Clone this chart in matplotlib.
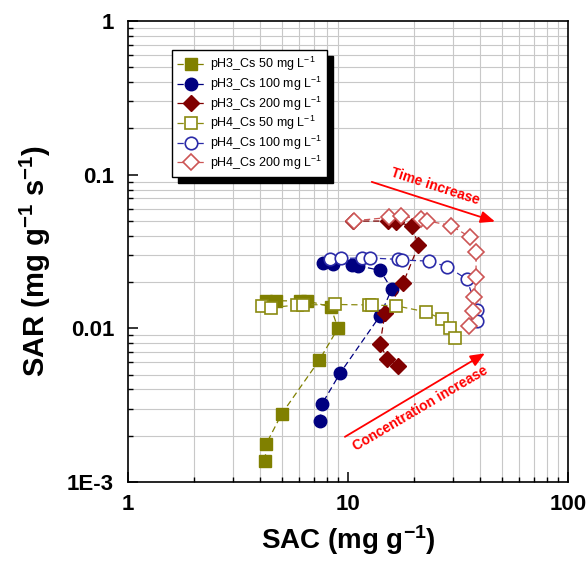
import matplotlib
matplotlib.use('Agg')
import matplotlib.pyplot as plt
from matplotlib.patches import Rectangle
from matplotlib.transforms import IdentityTransform
from matplotlib.ticker import NullFormatter, LogLocator

plt.rcParams['font.family'] = ['Liberation Sans', 'DejaVu Sans']
plt.rcParams['mathtext.fontset'] = 'custom'
plt.rcParams['mathtext.rm'] = 'Liberation Sans'
plt.rcParams['mathtext.it'] = 'Liberation Sans:italic'
plt.rcParams['mathtext.bf'] = 'Liberation Sans:bold'

# ---------------- data ----------------
ph3_50_x = [4.2, 4.25, 5.0, 7.4, 9.0, 8.35, 6.5, 6.05, 4.7, 4.22]
ph3_50_y = [0.00138, 0.00177, 0.00278, 0.0062, 0.0100, 0.0138, 0.0151, 0.0151, 0.0151, 0.0151]

ph3_100_x = [7.46, 7.6, 9.2, 14.0, 15.8, 14.0, 11.1, 10.4, 8.55, 7.7]
ph3_100_y = [0.0025, 0.0032, 0.0051, 0.0121, 0.0180, 0.0238, 0.0256, 0.0260, 0.0262, 0.0266]

ph3_200_x = [16.9, 15.1, 14.0, 14.7, 17.8, 20.9, 19.5, 16.5, 15.2, 10.5]
ph3_200_y = [0.0057, 0.0063, 0.0079, 0.0125, 0.0197, 0.0346, 0.0464, 0.0492, 0.0499, 0.0499]

ph4_50_x = [4.05, 4.45, 5.85, 6.25, 8.7, 12.4, 12.85, 16.6, 22.6, 26.7, 29.2, 30.5]
ph4_50_y = [0.0140, 0.0136, 0.0142, 0.0142, 0.0143, 0.0142, 0.0142, 0.0140, 0.0128, 0.0115, 0.0101, 0.0087]

ph4_100_x = [8.28, 9.29, 11.6, 12.6, 16.9, 17.6, 23.3, 28.2, 34.7, 38.6, 38.6]
ph4_100_y = [0.0281, 0.0285, 0.0287, 0.0287, 0.0281, 0.0278, 0.0274, 0.0252, 0.0209, 0.0132, 0.0111]

ph4_200_x = [10.65, 15.4, 17.4, 21.5, 22.9, 29.4, 35.9, 38.2, 38.2, 37.4, 37.0, 35.5]
ph4_200_y = [0.0501, 0.0527, 0.0537, 0.0514, 0.0501, 0.0466, 0.0392, 0.0314, 0.0215, 0.0159, 0.0129, 0.0103]

labels = ['pH3_Cs 50 mg L$^{-1}$', 'pH3_Cs 100 mg L$^{-1}$', 'pH3_Cs 200 mg L$^{-1}$',
          'pH4_Cs 50 mg L$^{-1}$', 'pH4_Cs 100 mg L$^{-1}$', 'pH4_Cs 200 mg L$^{-1}$']

x_tick_vals = [1, 10, 100]
x_tick_labels = ['1', '10', '100']
y_tick_vals = [0.001, 0.01, 0.1, 1]
y_tick_labels = ['1E-3', '0.01', '0.1', '1']

# ---------------- figure ----------------
fig = plt.figure(figsize=(5.87, 5.73), dpi=100)
ax = fig.add_axes([128/587, 91/573, 440/587, 461/573])
ax.set_xscale('log')
ax.set_yscale('log')
ax.set_xlim(1, 100)
ax.set_ylim(1e-3, 1)

series = [
    (ph3_50_x, ph3_50_y, labels[0], 's', '#808000', True, 8),
    (ph3_100_x, ph3_100_y, labels[1], 'o', '#000080', True, 9),
    (ph3_200_x, ph3_200_y, labels[2], 'D', '#800000', True, 8),
    (ph4_50_x, ph4_50_y, labels[3], 's', '#8a8a10', False, 8),
    (ph4_100_x, ph4_100_y, labels[4], 'o', '#2a2aa8', False, 9),
    (ph4_200_x, ph4_200_y, labels[5], 'D', '#cc5555', False, 8),
]
for x, y, lab, mk, col, filled, ms in series:
    ax.plot(x, y, linestyle=(0, (5, 3)), lw=0.9, color=col, marker=mk, ms=ms,
            mfc=col if filled else 'white', mec=col, mew=1.0 if filled else 1.2,
            label=lab, zorder=3)

# ticks & grid
ax.set_xticks(x_tick_vals, x_tick_labels)
ax.set_yticks(y_tick_vals, y_tick_labels)
ax.xaxis.set_minor_locator(LogLocator(base=10, subs=range(2, 10), numticks=20))
ax.yaxis.set_minor_locator(LogLocator(base=10, subs=range(2, 10), numticks=20))
ax.xaxis.set_minor_formatter(NullFormatter())
ax.yaxis.set_minor_formatter(NullFormatter())
ax.tick_params(which='major', direction='in', length=7, width=1.1, labelsize=16,
               top=False, right=False)
ax.tick_params(which='minor', direction='in', length=3.5, width=1.0, top=False, right=False)
ax.tick_params(axis='x', which='major', pad=8.5)
ax.tick_params(axis='y', which='major', pad=10)
for lbl in ax.get_xticklabels() + ax.get_yticklabels():
    lbl.set_fontweight('bold')
ax.grid(False, which='major')
ax.grid(True, which='minor', color='#c8c8c8', lw=0.8)
ax.set_axisbelow(True)
for sp in ax.spines.values():
    sp.set_linewidth(1.2)

ax.set_xlabel('SAC (mg g$^{\\mathbf{-1}}$)', fontsize=20, fontweight='bold')
ax.set_ylabel('SAR (mg g$^{\\mathbf{-1}}$ s$^{\\mathbf{-1}}$)', fontsize=21, fontweight='bold')
ax.xaxis.set_label_coords(0.5, -0.09)
ax.yaxis.set_label_coords(-0.17, 0.48)

# legend
leg = ax.legend(loc='upper left', bbox_to_anchor=(0.1007, 0.937), frameon=True, fancybox=False,
                edgecolor='black', framealpha=1, fontsize=9, handlelength=2.2,
                handletextpad=0.4, borderpad=0.4, labelspacing=0.12, borderaxespad=0)
leg.get_frame().set_linewidth(1.0)
leg.set_zorder(6)

# annotations
ax.annotate('', xy=(0.834, 0.565), xytext=(0.554, 0.651), xycoords='axes fraction',
            arrowprops=dict(arrowstyle='-|>,head_length=0.43,head_width=0.18', color='red',
                            lw=1.3, shrinkA=0, shrinkB=0, mutation_scale=20))
ax.text(0.698, 0.642, 'Time increase', transform=ax.transAxes, rotation=-18, color='red',
        fontsize=10, fontweight='bold', ha='center', va='center', rotation_mode='anchor')
ax.annotate('', xy=(0.811, 0.279), xytext=(0.493, 0.098), xycoords='axes fraction',
            arrowprops=dict(arrowstyle='-|>,head_length=0.43,head_width=0.18', color='red',
                            lw=1.3, shrinkA=0, shrinkB=0, mutation_scale=20))
ax.text(0.664, 0.160, 'Concentration increase', transform=ax.transAxes, rotation=30.5,
        color='red', fontsize=10, fontweight='bold', ha='center', va='center',
        rotation_mode='anchor')

# legend shadow
fig.canvas.draw()
bb = leg.get_window_extent()
shadow = Rectangle((bb.x0 + 6, bb.y0 - 6), bb.width, bb.height, transform=IdentityTransform(),
                   facecolor='black', edgecolor='black', zorder=5.5, clip_on=False)
ax.add_artist(shadow)

fig.savefig('out.png', dpi=100)
